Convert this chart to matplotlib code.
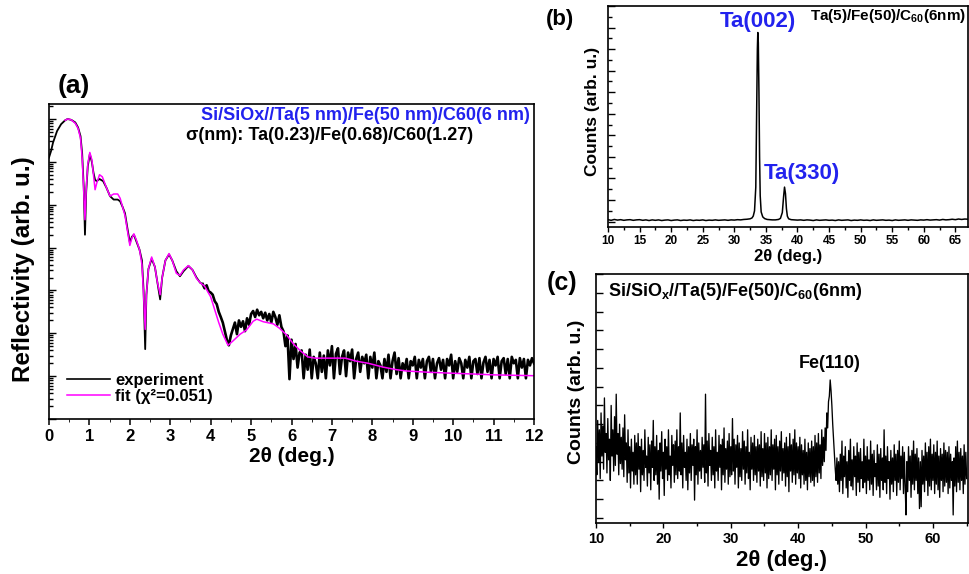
"""XRR fit (a) and XRD scans (b), (c) for Si/SiOx//Ta/Fe/C60.

Writes out.png (970 x 574).
"""

import matplotlib
matplotlib.use("Agg")
import matplotlib.pyplot as plt
import numpy as np
from matplotlib.ticker import LogLocator, MultipleLocator, NullFormatter

plt.rcParams["font.family"] = ["Liberation Sans", "DejaVu Sans"]
plt.rcParams["font.weight"] = "bold"
plt.rcParams["mathtext.fontset"] = "custom"
plt.rcParams["mathtext.rm"] = "Liberation Sans:bold"
plt.rcParams["mathtext.default"] = "rm"

BLUE = "#2222EE"
MAGENTA = "#FF00FF"

# ---- (a) reflectivity, log10 of counts ----
xrr_smooth_x = [0.00, 0.05, 0.10, 0.20, 0.30, 0.40, 0.46, 0.55, 0.65, 0.72,
                0.78, 0.82, 0.86, 0.89, 0.92, 0.96, 1.01, 1.06, 1.10, 1.14,
                1.18, 1.25, 1.34, 1.42, 1.51, 1.60, 1.70, 1.76, 1.82, 1.88,
                1.94, 2.00, 2.05, 2.10, 2.16, 2.24, 2.30, 2.34, 2.38, 2.41,
                2.46, 2.54, 2.62, 2.68, 2.75, 2.80, 2.88, 2.97, 3.05, 3.15,
                3.24, 3.33, 3.45, 3.55, 3.65, 3.74]
xrr_smooth_logr = [5.10, 5.25, 5.45, 5.72, 5.88, 5.97, 6.00, 5.98, 5.92, 5.80,
                   5.60, 5.20, 4.40, 3.30, 4.30, 4.90, 5.18, 5.00, 4.75, 4.58,
                   4.55, 4.60, 4.55, 4.40, 4.20, 4.12, 4.12, 4.08, 3.95, 3.80,
                   3.45, 3.12, 3.25, 3.30, 3.15, 2.95, 2.70, 2.00, 0.63, 1.90,
                   2.50, 2.74, 2.55, 2.20, 1.79, 2.30, 2.70, 2.84, 2.70, 2.45,
                   2.33, 2.45, 2.57, 2.48, 2.30, 2.18]

# noisy tail of the scan, 3.80 .. 12.00 deg in 0.05 steps
xrr_noisy_start, xrr_noisy_step = 3.80, 0.05
xrr_noisy_logr = [
    2.15, 2.05, 2.12, 1.98, 1.95, 1.90, 1.75, 1.68, 1.50, 1.38,
    1.25, 1.05, 0.85, 0.72, 0.95, 1.10, 1.25, 0.98, 1.30, 1.15,
    1.28, 1.05, 1.35, 1.20, 1.45, 1.52, 1.38, 1.55, 1.42, 1.50,
    1.35, 1.48, 1.30, 1.45, 1.25, 1.50, 1.38, 1.20, 1.42, 1.15,
    1.05, 0.70, 0.95, -0.07, 0.85, 0.40, 0.75, 0.20, 0.55, 0.60,
    -0.05, 0.50, 0.15, 0.62, -0.05, 0.45, 0.30, -0.05, 0.55, 0.10,
    0.48, -0.05, 0.60, 0.25, 0.70, -0.05, 0.52, 0.65, 0.05, 0.45,
    0.60, 0.00, 0.55, 0.35, 0.62, -0.05, 0.40, 0.55, 0.10, 0.45,
    0.30, 0.50, -0.05, 0.45, 0.20, 0.55, -0.05, 0.35, 0.25, -0.05,
    0.40, 0.10, 0.50, -0.05, 0.35, 0.55, 0.05, 0.42, -0.05, 0.30,
    0.15, 0.40, -0.05, 0.35, 0.25, 0.45, -0.05, 0.38, 0.20, 0.40,
    -0.05, 0.35, 0.45, 0.10, 0.40, -0.05, 0.30, 0.42, 0.15, 0.38,
    -0.05, 0.40, 0.25, 0.50, -0.05, 0.35, 0.10, 0.42, 0.30, -0.05,
    0.38, 0.20, 0.45, -0.05, 0.35, 0.40, 0.05, 0.42, -0.05, 0.32,
    0.45, 0.10, 0.38, -0.05, 0.40, 0.25, 0.45, -0.05, 0.35, 0.42,
    0.05, 0.40, -0.05, 0.45, 0.30, 0.38, -0.05, 0.42, 0.20, 0.40,
    -0.05, 0.38, 0.25, 0.42, 0.30,
]

fit_x = [0.40, 0.46, 0.55, 0.65, 0.72, 0.78, 0.82, 0.86, 0.89, 0.92,
         0.96, 1.01, 1.06, 1.10, 1.14, 1.18, 1.25, 1.32, 1.42, 1.51,
         1.60, 1.70, 1.76, 1.82, 1.88, 1.94, 2.00, 2.05, 2.10, 2.16,
         2.24, 2.30, 2.34, 2.38, 2.41, 2.46, 2.54, 2.62, 2.68, 2.75,
         2.80, 2.88, 2.97, 3.05, 3.15, 3.24, 3.33, 3.45, 3.55, 3.65,
         3.74, 3.85, 4.00, 4.10, 4.20, 4.30, 4.43, 4.55, 4.73, 4.89,
         5.05, 5.14, 5.30, 5.55, 5.70, 5.88, 6.05, 6.21, 6.40, 6.58,
         7.00, 7.33, 7.60, 7.90, 8.27, 8.60, 8.85, 9.40, 9.93, 10.50,
         11.00, 11.50, 12.00]
fit_logr = [5.97, 6.00, 5.98, 5.90, 5.78, 5.55, 5.10, 4.30, 3.65, 4.35,
            4.95, 5.22, 5.05, 4.70, 4.35, 4.50, 4.70, 4.65, 4.40, 4.20,
            4.25, 4.25, 4.15, 3.95, 3.75, 3.40, 3.05, 3.22, 3.32, 3.18,
            2.95, 2.60, 1.90, 1.09, 1.90, 2.50, 2.78, 2.55, 2.20, 1.90,
            2.30, 2.70, 2.86, 2.70, 2.40, 2.35, 2.48, 2.58, 2.48, 2.28,
            2.18, 2.10, 1.85, 1.55, 1.25, 0.98, 0.72, 0.82, 0.98, 1.08,
            1.28, 1.33, 1.27, 1.22, 1.12, 0.96, 0.75, 0.60, 0.45, 0.42,
            0.42, 0.42, 0.35, 0.30, 0.21, 0.15, 0.12, 0.09, 0.07, 0.05,
            0.03, 0.02, 0.01]

# ---- (b) XRD, Ta peaks ----
xrd_b_x = [10.0, 10.5, 11.0, 11.5, 12.0, 12.5, 13.0, 13.5, 14.0, 14.5,
           15.0, 15.5, 16.0, 16.5, 17.0, 17.5, 18.0, 18.5, 19.0, 19.5,
           20.0, 20.5, 21.0, 21.5, 22.0, 22.5, 23.0, 23.5, 24.0, 24.5,
           25.0, 25.5, 26.0, 26.5, 27.0, 27.5, 28.0, 28.5, 29.0, 29.5,
           30.0, 30.5, 31.0, 31.5, 32.0, 32.5, 32.8, 33.0, 33.2, 33.4,
           33.55, 33.65, 33.72, 33.8, 33.9, 34.0, 34.1, 34.25, 34.5, 34.8,
           35.2, 35.6, 36.0, 36.5, 37.0, 37.3, 37.6, 37.8, 37.95, 38.1,
           38.25, 38.4, 38.6, 39.0, 39.5, 40.0, 40.5, 41.0, 41.5, 42.0,
           42.5, 43.0, 43.5, 44.0, 44.5, 45.0, 45.5, 46.0, 46.5, 47.0,
           47.5, 48.0, 48.5, 49.0, 49.5, 50.0, 50.5, 51.0, 51.5, 52.0,
           52.5, 53.0, 53.5, 54.0, 54.5, 55.0, 55.5, 56.0, 56.5, 57.0,
           57.5, 58.0, 58.5, 59.0, 59.5, 60.0, 60.5, 61.0, 61.5, 62.0,
           62.5, 63.0, 63.5, 64.0, 64.5, 65.0, 65.5, 66.0, 66.5, 67.0]
xrd_b_counts = [9, 6, 10, 7, 9, 6, 8, 9, 6, 8,
                9, 6, 8, 5, 8, 6, 8, 5, 7, 8,
                5, 7, 8, 5, 7, 6, 8, 5, 7, 6,
                8, 5, 7, 6, 8, 6, 7, 8, 6, 8,
                7, 9, 8, 10, 11, 13, 17, 26, 50, 160,
                520, 800, 877, 830, 600, 300, 120, 45, 22, 14,
                10, 9, 8, 8, 10, 15, 42, 115, 160, 130,
                60, 25, 13, 9, 8, 7, 8, 6, 8, 7,
                5, 8, 6, 7, 8, 6, 7, 5, 8, 6,
                7, 8, 5, 7, 6, 8, 6, 7, 5, 8,
                6, 7, 8, 6, 7, 5, 8, 6, 7, 8,
                6, 8, 7, 6, 8, 7, 9, 7, 8, 9,
                7, 10, 8, 9, 11, 9, 12, 10, 12, 11]

# ---- (c) XRD, Fe(110), 10 .. 65 deg in 0.125 steps (one row = 2 deg) ----
xrd_c_start, xrd_c_step = 10.0, 0.125
xrd_c_counts = [
    380, 230, 520, 300, 470, 210, 560, 330, 490, 260, 640, 350, 450, 240, 530, 310,
    420, 200, 600, 330, 470, 250, 540, 280, 660, 340, 450, 230, 500, 290, 430, 260,
    480, 220, 550, 310, 400, 190, 470, 240, 380, 160, 420, 250, 350, 180, 440, 230,
    400, 180, 450, 260, 380, 140, 420, 230, 360, 200, 470, 270, 330, 170, 430, 240,
    390, 150, 410, 270, 520, 200, 380, 230, 440, 180, 360, 100, 400, 250, 460, 210,
    350, 120, 420, 260, 380, 200, 470, 230, 330, 160, 440, 280, 390, 190, 410, 230,
    470, 210, 380, 250, 560, 230, 400, 160, 440, 270, 350, 200, 420, 150, 380, 240,
    450, 200, 390, 280, 420, 95, 380, 230, 470, 180, 400, 250, 360, 210, 430, 270,
    390, 190, 660, 240, 410, 170, 450, 280, 360, 200, 430, 230, 380, 160, 470, 250,
    350, 200, 440, 270, 390, 150, 420, 230, 480, 190, 370, 260, 410, 180, 450, 220,
    380, 230, 530, 250, 420, 180, 390, 270, 440, 160, 400, 220, 370, 200, 460, 260,
    410, 180, 380, 240, 470, 210, 350, 150, 430, 260, 400, 200, 440, 230, 380, 190,
    420, 250, 390, 170, 460, 220, 370, 200, 450, 240, 400, 160, 430, 210, 380, 230,
    470, 200, 390, 260, 420, 150, 440, 230, 380, 180, 410, 250, 460, 200, 370, 240,
    400, 170, 430, 220, 380, 140, 450, 250, 390, 190, 420, 230, 470, 180, 400, 240,
    380, 210, 430, 160, 390, 230, 360, 180, 420, 200, 350, 150, 400, 220, 370, 190,
    410, 200, 380, 170, 440, 220, 400, 190, 450, 240, 390, 210, 470, 280, 430, 300,
    480, 360, 560, 480, 620, 650, 736, 680, 600, 500, 420, 330, 260, 200, 320, 180,
    300, 140, 340, 200, 410, 130, 330, 220, 380, 160, 300, 110, 360, 200, 420, 170,
    310, 150, 380, 220, 330, 120, 400, 190, 350, 140, 370, 210, 300, 160, 420, 190,
    330, 130, 380, 200, 310, 150, 410, 180, 340, 120, 360, 220, 290, 150, 390, 170,
    340, 110, 370, 200, 320, 150, 470, 190, 330, 130, 380, 210, 300, 100, 360, 180,
    320, 140, 390, 200, 340, 120, 360, 190, 410, 150, 330, 210, 380, 130, 350, 170,
    16, 300, 140, 380, 200, 330, 110, 360, 180, 410, 150, 340, 200, 370, 130, 320,
    50, 300, 60, 360, 180, 330, 140, 400, 200, 350, 120, 380, 170, 420, 150, 340,
    200, 390, 130, 350, 180, 410, 150, 330, 110, 370, 200, 340, 140, 400, 170, 360,
    190, 350, 130, 380, 160, 340, 200, 300, 16, 320, 170, 380, 140, 410, 190, 350,
    150, 370, 200, 330, 130, 390, 180, 350, 210,
]

W, H = 970, 574


def px_axes(fig, left, top, right, bottom):
    """Add axes from pixel box (origin top-left)."""
    return fig.add_axes([left / W, 1 - bottom / H,
                         (right - left) / W, (bottom - top) / H])


def px_text(fig, x, y, s, **kw):
    return fig.text(x / W, 1 - y / H, s, **kw)


def style_box(ax, lw=1.2):
    for sp in ax.spines.values():
        sp.set_linewidth(lw)


def panel_a(fig):
    ax = px_axes(fig, 49, 104, 534, 419)
    noisy_x = xrr_noisy_start + xrr_noisy_step * np.arange(len(xrr_noisy_logr))
    # smooth part and noisy tail are one scan; the tail is drawn heavier
    smooth_x = list(xrr_smooth_x) + [noisy_x[0]]
    smooth_y = 10.0 ** np.array(list(xrr_smooth_logr) + [xrr_noisy_logr[0]])
    ax.plot(smooth_x, smooth_y, color="black", lw=1.3, label="experiment")
    ax.plot(noisy_x, 10.0 ** np.array(xrr_noisy_logr), color="black", lw=1.9)
    ax.plot(fit_x, 10.0 ** np.array(fit_logr), color=MAGENTA, lw=1.1,
            label="fit (χ²=0.051)")
    ax.set_yscale("log")
    ax.set_xlim(0, 12)
    ax.set_ylim(10 ** -1, 10 ** 6.35)
    ax.xaxis.set_major_locator(MultipleLocator(1))
    ax.xaxis.set_minor_locator(MultipleLocator(0.5))
    ax.yaxis.set_major_locator(LogLocator(base=10, numticks=20))
    ax.yaxis.set_minor_locator(LogLocator(base=10, subs=np.arange(2, 10),
                                          numticks=20))
    ax.yaxis.set_major_formatter(NullFormatter())
    ax.yaxis.set_minor_formatter(NullFormatter())
    ax.tick_params(axis="x", direction="out", length=4, width=1.1,
                   labelsize=12, pad=3)
    ax.tick_params(axis="x", which="minor", direction="out", length=2.5)
    ax.tick_params(axis="y", which="both", direction="in", width=1.0)
    ax.tick_params(axis="y", which="major", length=5)
    ax.tick_params(axis="y", which="minor", length=3)
    style_box(ax)
    ax.set_xlabel("2θ (deg.)", fontsize=15, fontweight="bold", labelpad=2)
    leg = ax.legend(loc="upper left", bbox_to_anchor=(0.037, 0.145),
                    frameon=False, fontsize=12, handlelength=2.6,
                    handletextpad=0.3, labelspacing=0.05, borderpad=0,
                    borderaxespad=0)
    leg.get_lines()[0].set_linewidth(1.2)
    px_text(fig, 58, 86, "(a)", fontsize=19, fontweight="bold", va="center")
    px_text(fig, 530, 116, "Si/SiOx//Ta(5 nm)/Fe(50 nm)/C60(6 nm)",
            color=BLUE, fontsize=13, fontweight="bold", ha="right", va="center")
    px_text(fig, 186, 135, "σ(nm): Ta(0.23)/Fe(0.68)/C60(1.27)",
            fontsize=13, fontweight="bold", va="center")
    px_text(fig, 24, 269, "Reflectivity (arb. u.)", fontsize=17.5,
            fontweight="bold", rotation=90, ha="center", va="center")


def panel_b(fig):
    ax = px_axes(fig, 608, 6, 968, 227)
    ax.plot(xrd_b_x, xrd_b_counts, color="black", lw=1.1)
    ax.set_xlim(10, 67)
    ax.set_ylim(-25, 1000)
    ax.xaxis.set_major_locator(MultipleLocator(5))
    ax.xaxis.set_minor_locator(MultipleLocator(2.5))
    ax.yaxis.set_major_locator(MultipleLocator(100))
    ax.yaxis.set_minor_locator(MultipleLocator(50))
    ax.yaxis.set_major_formatter(NullFormatter())
    ax.tick_params(axis="x", which="both", direction="out", width=1.0,
                   labelsize=8.5, pad=2)
    ax.tick_params(axis="x", which="major", length=3.5)
    ax.tick_params(axis="x", which="minor", length=2)
    ax.tick_params(axis="y", which="both", direction="in", width=1.0)
    ax.tick_params(axis="y", which="major", length=5)
    ax.tick_params(axis="y", which="minor", length=3)
    style_box(ax)
    ax.set_xlabel("2θ (deg.)", fontsize=12, fontweight="bold", labelpad=2)
    px_text(fig, 592, 111, "Counts (arb. u.)", fontsize=12.5, fontweight="bold",
            rotation=90, ha="center", va="center")
    px_text(fig, 546, 20, "(b)", fontsize=16, fontweight="bold", va="center")
    px_text(fig, 758, 21, "Ta(002)", color=BLUE, fontsize=16,
            fontweight="bold", ha="center", va="center")
    px_text(fig, 966, 16, "Ta(5)/Fe(50)/C$_{60}$(6nm)", fontsize=11,
            fontweight="bold", ha="right", va="center")
    px_text(fig, 802, 173, "Ta(330)", color=BLUE, fontsize=16,
            fontweight="bold", ha="center", va="center")


def panel_c(fig):
    ax = px_axes(fig, 596, 274, 968, 523)
    xs = xrd_c_start + xrd_c_step * np.arange(len(xrd_c_counts))
    ax.plot(xs, xrd_c_counts, color="black", lw=0.95)
    ax.set_xlim(10, 65.2)
    ax.set_ylim(-27, 1301)
    ax.xaxis.set_major_locator(MultipleLocator(10))
    ax.xaxis.set_minor_locator(MultipleLocator(5))
    ax.yaxis.set_major_locator(MultipleLocator(100))
    ax.yaxis.set_major_formatter(NullFormatter())
    ax.tick_params(axis="x", which="both", direction="out", width=1.0,
                   labelsize=10.5, pad=3)
    ax.tick_params(axis="x", which="major", length=3.5)
    ax.tick_params(axis="x", which="minor", length=2)
    ax.tick_params(axis="y", direction="in", length=5, width=1.0)
    style_box(ax)
    ax.set_xlabel("2θ (deg.)", fontsize=16, fontweight="bold", labelpad=3)
    px_text(fig, 577, 392, "Counts (arb. u.)", fontsize=14, fontweight="bold",
            rotation=90, ha="center", va="center")
    px_text(fig, 547, 283, "(c)", fontsize=18, fontweight="bold", va="center")
    px_text(fig, 608, 291, "Si/SiO$_{x}$//Ta(5)/Fe(50)/C$_{60}$(6nm)",
            fontsize=13, fontweight="bold", va="center")
    px_text(fig, 830, 364, "Fe(110)", fontsize=13, fontweight="bold",
            ha="center", va="center")


def main():
    fig = plt.figure(figsize=(W / 100, H / 100), dpi=100)
    panel_a(fig)
    panel_b(fig)
    panel_c(fig)
    fig.savefig("out.png", dpi=100)
    plt.close(fig)


if __name__ == "__main__":
    main()
